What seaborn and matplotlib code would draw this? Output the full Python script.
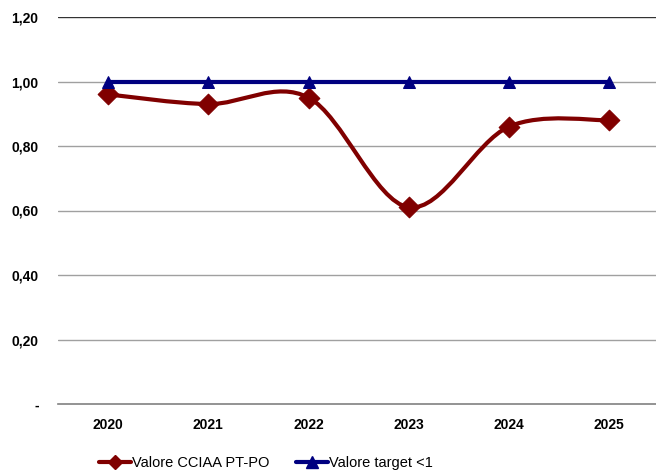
import numpy as np
import pandas as pd
import matplotlib
matplotlib.use("Agg")
import matplotlib.pyplot as plt
from matplotlib.path import Path
from matplotlib.patches import PathPatch
from matplotlib.lines import Line2D
import seaborn as sns

years = ["2020", "2021", "2022", "2023", "2024", "2025"]
valore_cciaa = [0.96, 0.93, 0.95, 0.61, 0.86, 0.88]
valore_target = [1.0, 1.0, 1.0, 1.0, 1.0, 1.0]
y_ticks = [0.0, 0.2, 0.4, 0.6, 0.8, 1.0, 1.2]
y_labels = ["-", "0,20", "0,40", "0,60", "0,80", "1,00", "1,20"]

RED = "#800000"
BLUE = "#000080"

sns.set_theme(style="white")
plt.rcParams["font.family"] = ["Liberation Sans", "DejaVu Sans"]
plt.rcParams["text.color"] = "black"
plt.rcParams["xtick.color"] = "black"
plt.rcParams["ytick.color"] = "black"

fig = plt.figure(figsize=(6.56, 4.72), dpi=100)
ax = fig.add_axes([58 / 656, 1 - 404 / 472, 1 - 58 / 656 + 0.005, (404 - 17) / 472])

df = pd.DataFrame({"x": np.arange(len(years)), "cciaa": valore_cciaa, "target": valore_target})

# gridlines
for t in y_ticks[1:]:
    ax.axhline(t, color="#333333" if t == 1.2 else "#a0a0a0", lw=1.0, zorder=0)

# smoothed red curve (Excel-like Bezier smoothing)
xs = df["x"].to_numpy(dtype=float)
ys = df["cciaa"].to_numpy(dtype=float)
pts = np.column_stack([xs, ys])
verts = [tuple(pts[0])]
codes = [Path.MOVETO]
n = len(pts)
for i in range(n - 1):
    p0 = pts[i - 1] if i > 0 else pts[i]
    p1 = pts[i]
    p2 = pts[i + 1]
    p3 = pts[i + 2] if i + 2 < n else pts[i + 1]
    c1 = p1 + (p2 - p0) / 6.0
    c2 = p2 - (p3 - p1) / 6.0
    verts += [tuple(c1), tuple(c2), tuple(p2)]
    codes += [Path.CURVE4] * 3
ax.add_patch(PathPatch(Path(verts, codes), facecolor="none", edgecolor=RED, lw=3, zorder=3))
sns.scatterplot(data=df, x="x", y="cciaa", marker="D", s=110, color=RED, edgecolor=RED, ax=ax, zorder=4, legend=False)

sns.lineplot(data=df, x="x", y="target", color=BLUE, lw=3, marker="^", markersize=8,
             markeredgecolor=BLUE, ax=ax, zorder=5, legend=False)

ax.set_xlim(-0.5, 5.5)
ax.set_ylim(0, 1.2)
ax.set_yticks(y_ticks)
ax.set_yticklabels(y_labels, fontsize=10, fontweight="bold", color="black")
ax.set_xticks(df["x"])
ax.set_xticklabels(years, fontsize=10, fontweight="bold", color="black")
ax.set_xlabel("")
ax.set_ylabel("")
ax.tick_params(axis="x", length=0, pad=10)
ax.tick_params(axis="y", length=0, pad=14)
for s in ["top", "right", "left"]:
    ax.spines[s].set_visible(False)
ax.spines["bottom"].set_color("#808080")
ax.spines["bottom"].set_linewidth(1.2)
ax.grid(False)

handles = [
    Line2D([], [], color=RED, lw=3, marker="D", markersize=7),
    Line2D([], [], color=BLUE, lw=3, marker="^", markersize=8),
]
leg = fig.legend(handles, ["Valore CCIAA PT-PO", "Valore target <1"], loc="center",
                 bbox_to_anchor=(266 / 656, 1 - 463 / 472), ncol=2, frameon=False,
                 fontsize=10.5, handlelength=2.2, handletextpad=0.1, columnspacing=1.8)
for t in leg.get_texts():
    t.set_color("black")

fig.savefig("out.png", dpi=100)
